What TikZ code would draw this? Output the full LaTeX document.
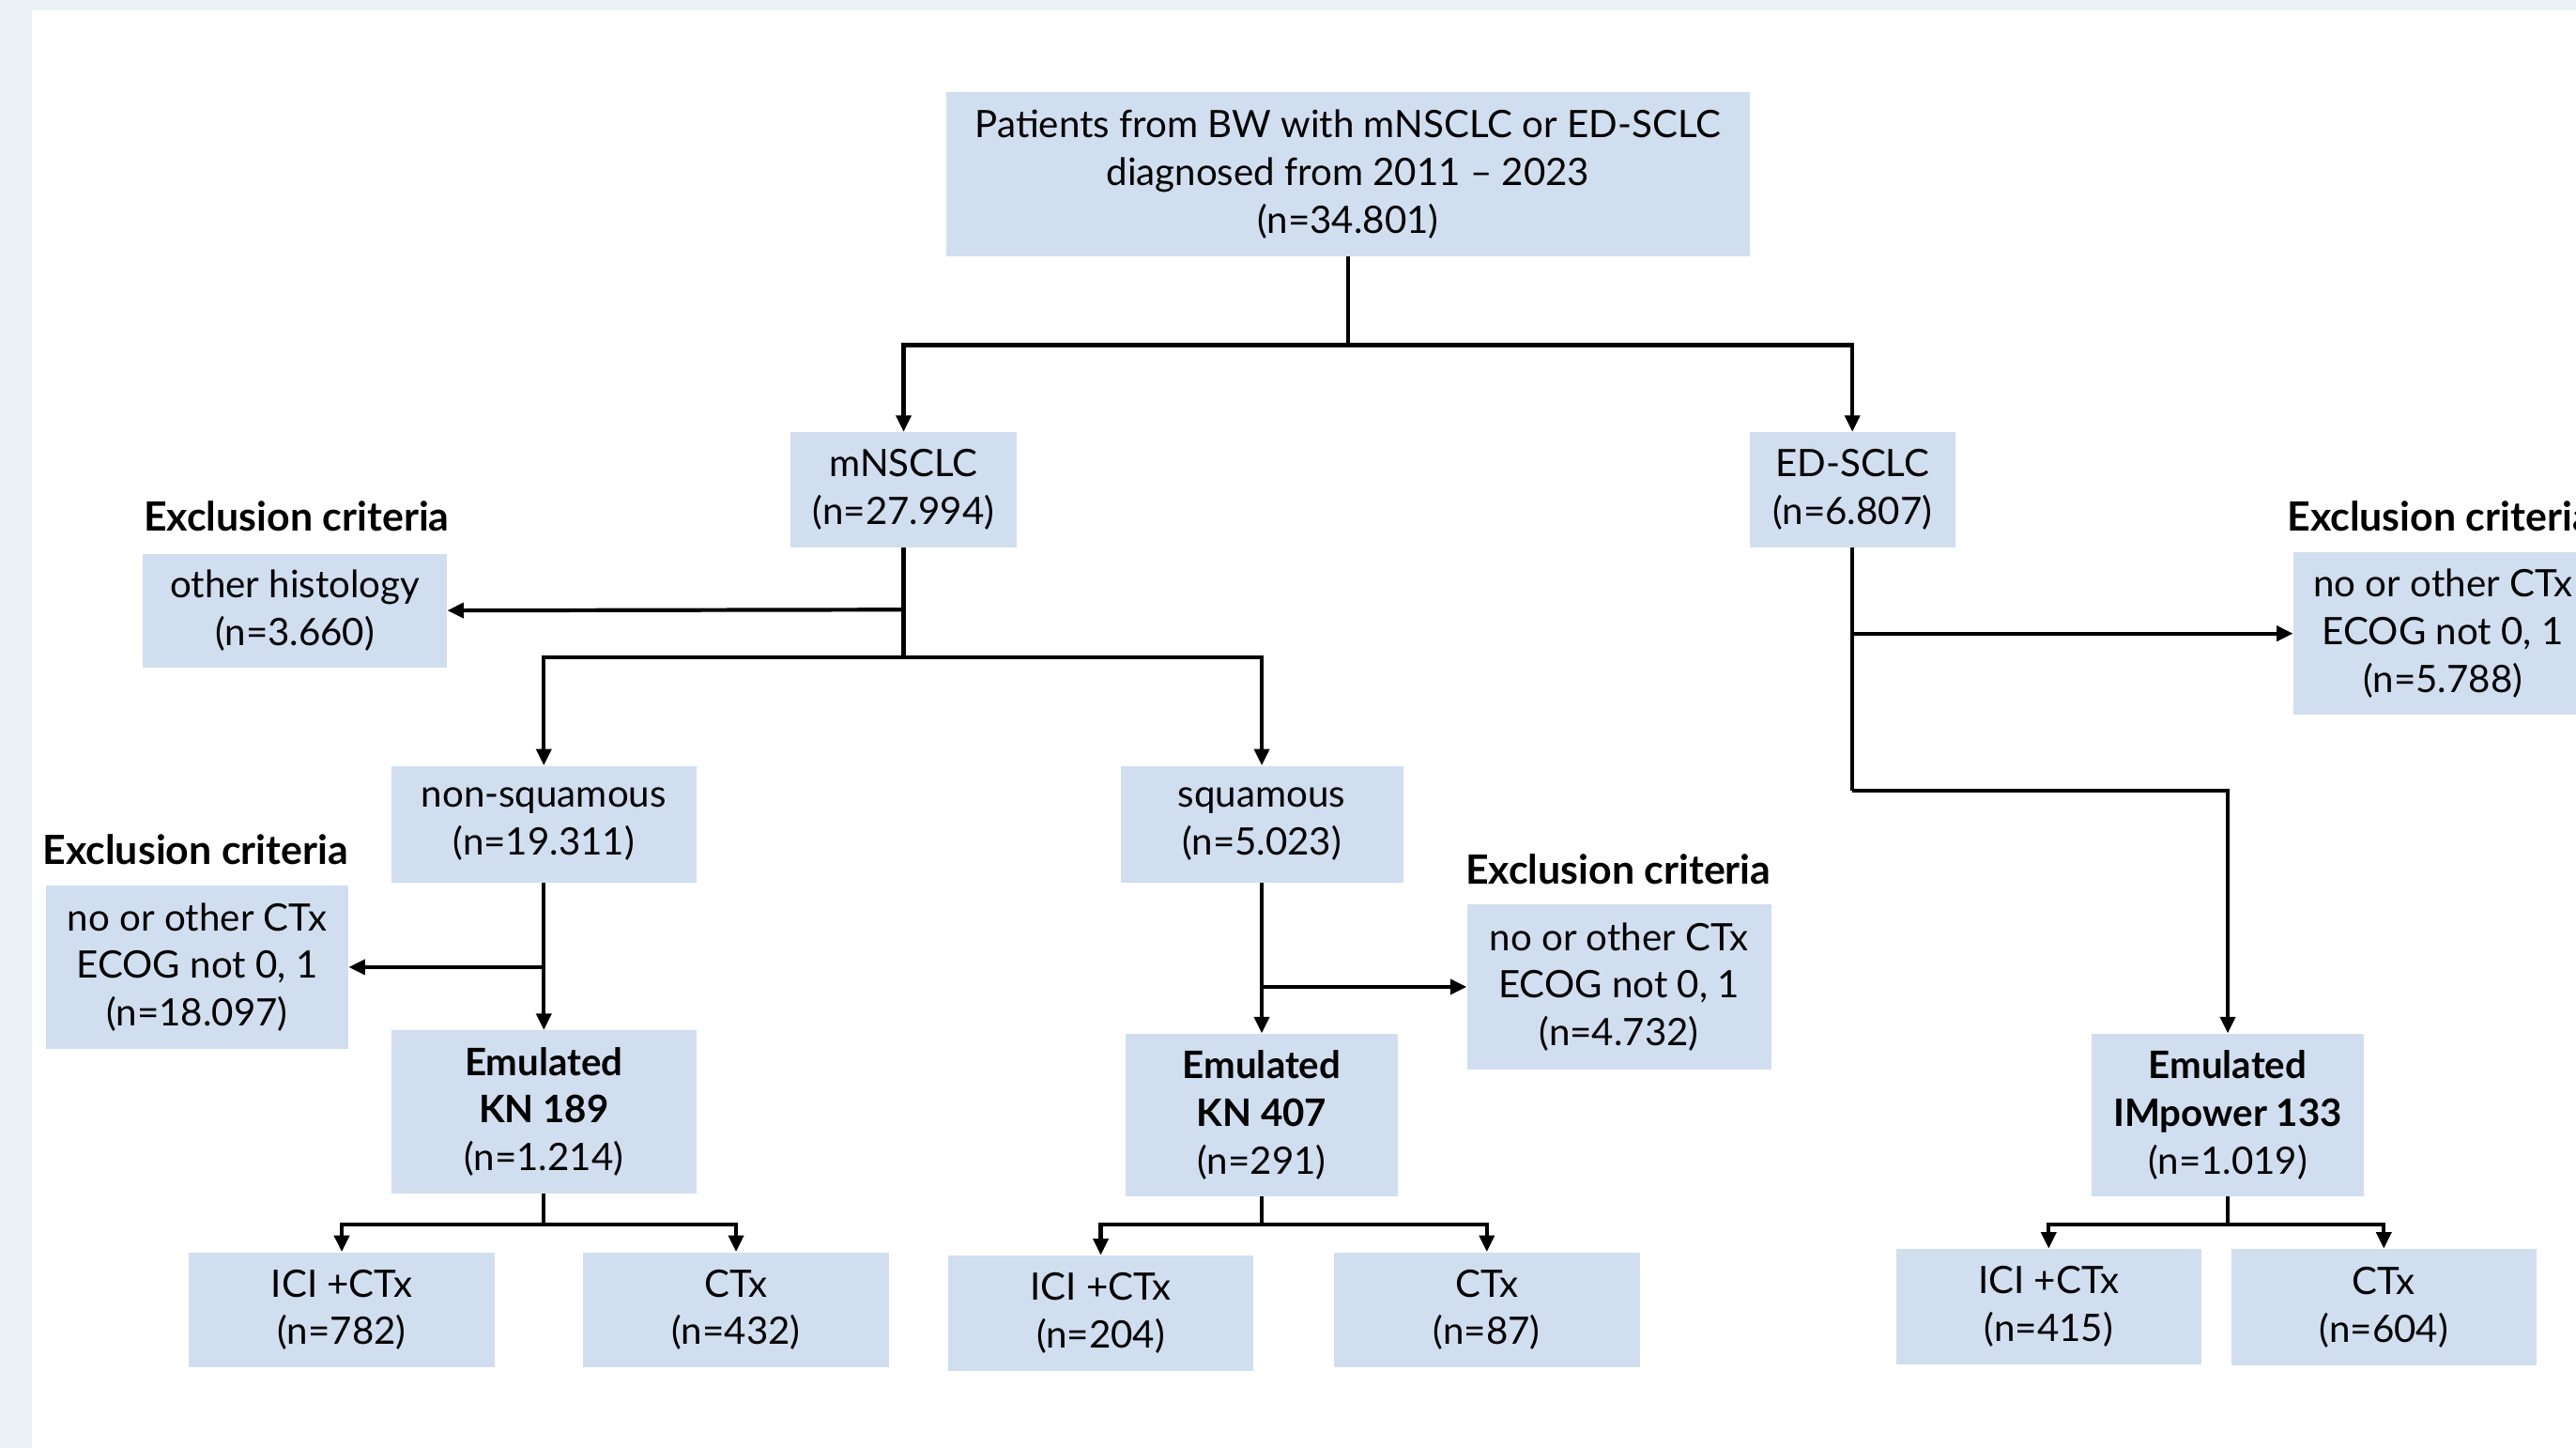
\documentclass[tikz,border=0pt]{standalone}
\usepackage{fontspec}
\setmainfont{Lato}
\usetikzlibrary{arrows.meta}
\definecolor{boxfill}{RGB}{209,222,240}
\definecolor{bgstrip}{RGB}{234,242,246}
\tikzset{
  box/.style={fill=boxfill, draw=none, inner sep=0pt, align=center,
    font=\fontsize{23}{29}\selectfont},
  exlabel/.style={inner sep=0pt, font=\fontsize{24.5}{29}\selectfont\bfseries},
  line/.style={line width=2.4pt, black},
  arr/.style={line width=2.4pt, black, -{Triangle[length=10pt,width=9pt]}},
}
\begin{document}
\begin{tikzpicture}[x=1pt,y=-1pt]
\useasboundingbox (0,0) rectangle (1568,881);
\fill[bgstrip] (0,0) rectangle (1568,6.5);
\fill[bgstrip] (0,0) rectangle (19.5,881);
% boxes
\node[box, minimum width=489pt, minimum height=100pt] (top) at (820.5,106)
  {Patients from BW with mNSCLC or ED-SCLC\\diagnosed from 2011 -- 2023\\(n=34.801)};
\node[box, minimum width=138pt, minimum height=70pt] (nsclc) at (550,298) {mNSCLC\\(n=27.994)};
\node[box, minimum width=125pt, minimum height=70pt] (sclc) at (1127.5,298) {ED-SCLC\\(n=6.807)};
\node[box, minimum width=185pt, minimum height=69pt] (exhist) at (179.5,371.5) {other histology\\(n=3.660)};
\node[exlabel] (lab1) at (180.5,314) {Exclusion criteria};
\node[box, minimum width=186pt, minimum height=71pt] (nonsq) at (331,501.5) {non-squamous\\(n=19.311)};
\node[box, minimum width=172pt, minimum height=71pt] (sq) at (768,501.5) {squamous\\(n=5.023)};
\node[box, minimum width=184pt, minimum height=99pt] (exnonsq) at (120,588.5) {no or other CTx\\ECOG not 0, 1\\(n=18.097)};
\node[exlabel] (lab2) at (119,517) {Exclusion criteria};
\node[box, minimum width=185pt, minimum height=101pt] (exsq) at (985.5,600.5) {no or other CTx\\ECOG not 0, 1\\(n=4.732)};
\node[exlabel] (lab3) at (985,529) {Exclusion criteria};
\node[box, minimum width=182pt, minimum height=99pt] (exsclc) at (1487,385.5) {no or other CTx\\ECOG not 0, 1\\(n=5.788)};
\node[exlabel, anchor=west] (lab4) at (1392,314) {Exclusion criteria};
\node[box, minimum width=186pt, minimum height=99pt] (kn189) at (331,676.5) {\textbf{Emulated}\\\textbf{KN 189}\\(n=1.214)};
\node[box, minimum width=166pt, minimum height=99pt] (kn407) at (768,678.5) {\textbf{Emulated}\\\textbf{KN 407}\\(n=291)};
\node[box, minimum width=166pt, minimum height=99pt] (imp) at (1356,678.5) {\textbf{Emulated}\\\textbf{IMpower 133}\\(n=1.019)};
\node[box, minimum width=186pt, minimum height=70pt] (a1) at (208,797) {ICI +CTx\\(n=782)};
\node[box, minimum width=186pt, minimum height=70pt] (a2) at (448,797) {CTx\\(n=432)};
\node[box, minimum width=186pt, minimum height=70pt] (b1) at (670,799) {ICI +CTx\\(n=204)};
\node[box, minimum width=186pt, minimum height=70pt] (b2) at (905,797) {CTx\\(n=87)};
\node[box, minimum width=186pt, minimum height=70pt] (c1) at (1247,795) {ICI +CTx\\(n=415)};
\node[box, minimum width=186pt, minimum height=71pt] (c2) at (1451,795.5) {CTx\\(n=604)};
% connectors
\coordinate (j1) at (top.south |- 0,210);
\draw[line] (top.south) -- (j1);
\draw[arr] (j1) -| (nsclc.north);
\draw[arr] (j1) -| (sclc.north);
\coordinate (j2) at (nsclc.south |- 0,371);
\coordinate (j3) at (nsclc.south |- 0,400);
\draw[line] (nsclc.south) -- (j3);
\draw[arr] (j2) -- (exhist.east);
\draw[arr] (j3) -| (nonsq.north);
\draw[arr] (j3) -| (sq.north);
\coordinate (j4) at (nonsq.south |- exnonsq.east);
\draw[arr] (nonsq.south) -- (kn189.north);
\draw[arr] (j4) -- (exnonsq.east);
\coordinate (j5) at (sq.south |- exsq.west);
\draw[arr] (sq.south) -- (kn407.north);
\draw[arr] (j5) -- (exsq.west);
\coordinate (j6) at (sclc.south |- exsclc.west);
\coordinate (j7) at (sclc.south |- 0,481);
\draw[line] (sclc.south) -- (j7);
\draw[arr] (j6) -- (exsclc.west);
\draw[arr] (j7) -| (imp.north);
\coordinate (k1) at (kn189.south |- 0,745);
\draw[line] (kn189.south) -- (k1);
\draw[arr] (k1) -| (a1.north);
\draw[arr] (k1) -| (a2.north);
\coordinate (k2) at (kn407.south |- 0,745);
\draw[line] (kn407.south) -- (k2);
\draw[arr] (k2) -| (b1.north);
\draw[arr] (k2) -| (b2.north);
\coordinate (k3) at (imp.south |- 0,745);
\draw[line] (imp.south) -- (k3);
\draw[arr] (k3) -| (c1.north);
\draw[arr] (k3) -| (c2.north);
\end{tikzpicture}
\end{document}
